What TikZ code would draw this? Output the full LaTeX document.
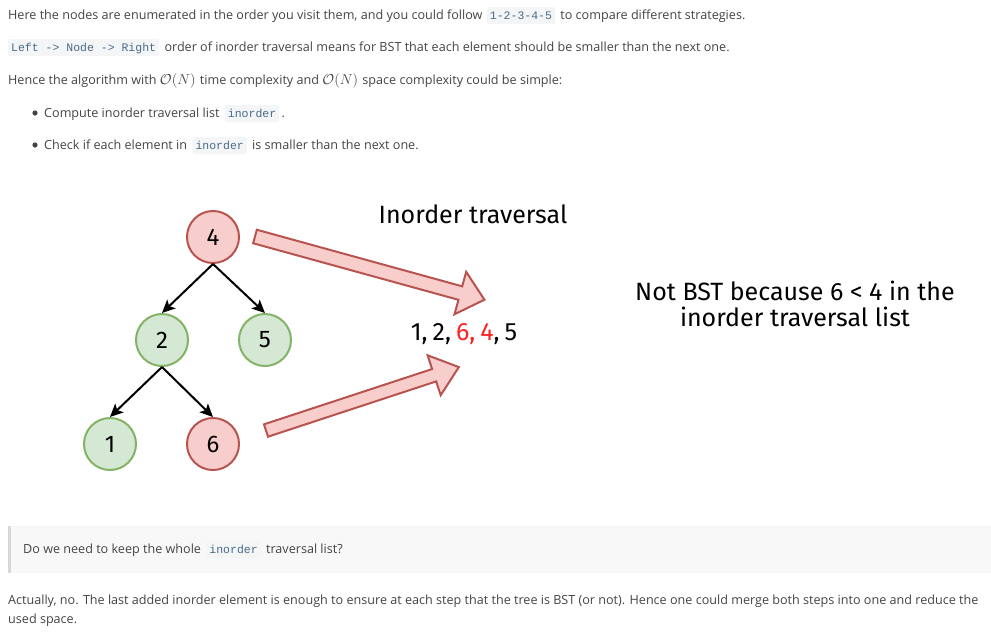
\documentclass[tikz,border=0pt]{standalone}
\usepackage{fontspec}
\setmainfont{Open Sans}
\setmonofont{Liberation Mono}
\newfontfamily\handfont{Fira Sans}
\usetikzlibrary{arrows.meta}
\definecolor{txt}{HTML}{444444}
\definecolor{codebg}{HTML}{F3F5F7}
\definecolor{codefg}{HTML}{4A6A88}
\definecolor{redfill}{HTML}{F8CECC}
\definecolor{redline}{HTML}{B85450}
\definecolor{greenfill}{HTML}{D5E8D4}
\definecolor{greenline}{HTML}{82B366}
\definecolor{quotebg}{HTML}{F8F8F8}
\definecolor{quotebar}{HTML}{D8D8D8}
\definecolor{hotred}{HTML}{FF2020}
\tikzset{
  body/.style={anchor=base west, inner sep=0pt, text=txt, font=\fontsize{12.6}{15}\selectfont},
  mathbit/.style={anchor=base west, inner sep=0pt, text=txt, font=\fontsize{15}{17}\selectfont},
  codebox/.style={anchor=base west, fill=codebg, text=codefg, font=\ttfamily\fontsize{11.5}{13}\selectfont,
    inner xsep=3pt, inner ysep=0pt, text height=12pt, text depth=5pt, rounded corners=2pt},
  treenode/.style={circle, minimum size=52pt, inner sep=0pt, line width=2pt, font=\handfont\fontsize{24}{26}\selectfont},
  rednode/.style={treenode, draw=redline, fill=redfill},
  greennode/.style={treenode, draw=greenline, fill=greenfill},
  edge/.style={line width=2pt, -{Stealth[length=13pt,width=12pt,inset=3pt]}},
  blockarrow/.style={draw=redline, fill=redfill, line width=2pt, line join=miter},
  hand/.style={inner sep=0pt, font=\handfont\fontsize{25}{28}\selectfont, text=black}
}
\begin{document}
\begin{tikzpicture}[x=1pt,y=-1pt]
\useasboundingbox (0,0) rectangle (991,633);
\fill[white] (0,0) rectangle (991,633);

% ---- top text ----
\node[body] (l1a) at (8,19) {Here the nodes are enumerated in the order you visit them, and you could follow};
\node[codebox] (l1c) at ([xshift=4pt]l1a.base east) {1-2-3-4-5};
\node[body] (l1b) at ([xshift=5pt]l1c.base east) {to compare different strategies.};

\node[codebox] (l2c) at (8,51) {Left -> Node -> Right};
\node[body] (l2a) at ([xshift=5pt]l2c.base east) {order of inorder traversal means for BST that each element should be smaller than the next one.};

\node[body] (l3a) at (8,84) {Hence the algorithm with};
\node[mathbit] (l3m1) at ([xshift=3pt]l3a.base east) {$\mathcal{O}(N)$};
\node[body] (l3b) at ([xshift=4pt]l3m1.base east) {time complexity and};
\node[mathbit] (l3m2) at ([xshift=3pt]l3b.base east) {$\mathcal{O}(N)$};
\node[body] (l3c) at ([xshift=4pt]l3m2.base east) {space complexity could be simple:};

\fill[txt] (35,113) circle (2.6pt);
\node[body] (b1a) at (44,117) {Compute inorder traversal list};
\node[codebox] (b1c) at ([xshift=5pt]b1a.base east) {inorder};
\node[body] (b1b) at ([xshift=2pt]b1c.base east) {.};

\fill[txt] (35,145) circle (2.6pt);
\node[body] (b2a) at (44,149) {Check if each element in};
\node[codebox] (b2c) at ([xshift=5pt]b2a.base east) {inorder};
\node[body] (b2b) at ([xshift=5pt]b2c.base east) {is smaller than the next one.};

% ---- tree ----
\node[rednode] (n4) at (213,237) {4};
\node[greennode] (n2) at (162,340) {2};
\node[greennode] (n5) at (265,340) {5};
\node[greennode] (n1) at (110,444) {1};
\node[rednode] (n6) at (213,444) {6};
\draw[edge] (n4.south) -- (n2.north);
\draw[edge] (n4.south) -- (n5.north);
\draw[edge] (n2.south) -- (n1.north);
\draw[edge] (n2.south) -- (n6.north);

% ---- block arrows ----
\begin{scope}[shift={(255,236.5)}, rotate=-15.4]
  \draw[blockarrow] (0,-7) -- (213,-7) -- (213,-22) -- (238,0) -- (213,22) -- (213,7) -- (0,7) -- cycle;
\end{scope}
\begin{scope}[shift={(266,430.5)}, rotate=18.2]
  \draw[blockarrow] (0,-6.5) -- (177,-6.5) -- (177,-21) -- (203,0) -- (177,21) -- (177,6.5) -- (0,6.5) -- cycle;
\end{scope}

% ---- diagram texts ----
\node[hand, anchor=base] (title) at (473,223) {Inorder traversal};
\node[hand, anchor=base] (seq) at (464,340) {1,\hspace{5pt}2,\hspace{5pt}\textcolor{hotred}{6,\hspace{5pt}4},\hspace{5pt}5};
\node[hand, anchor=base] (note1) at (795,300) {Not BST because 6 < 4 in the};
\node[hand, anchor=base] (note2) at (795,326) {inorder traversal list};

% ---- quote ----
\fill[quotebg] (8,526) rectangle (991,573);
\fill[quotebar] (8,526) rectangle (11,573);
\node[body] (qa) at (23,553) {Do we need to keep the whole};
\node[codebox] (qc) at ([xshift=5pt]qa.base east) {inorder};
\node[body] (qb) at ([xshift=5pt]qc.base east) {traversal list?};

% ---- last paragraph ----
\node[body] (p1) at (8,604) {Actually, no. The last added inorder element is enough to ensure at each step that the tree is BST (or not). Hence one could merge both steps into one and reduce the};
\node[body] (p2) at (8,623) {used space.};
\end{tikzpicture}
\end{document}
